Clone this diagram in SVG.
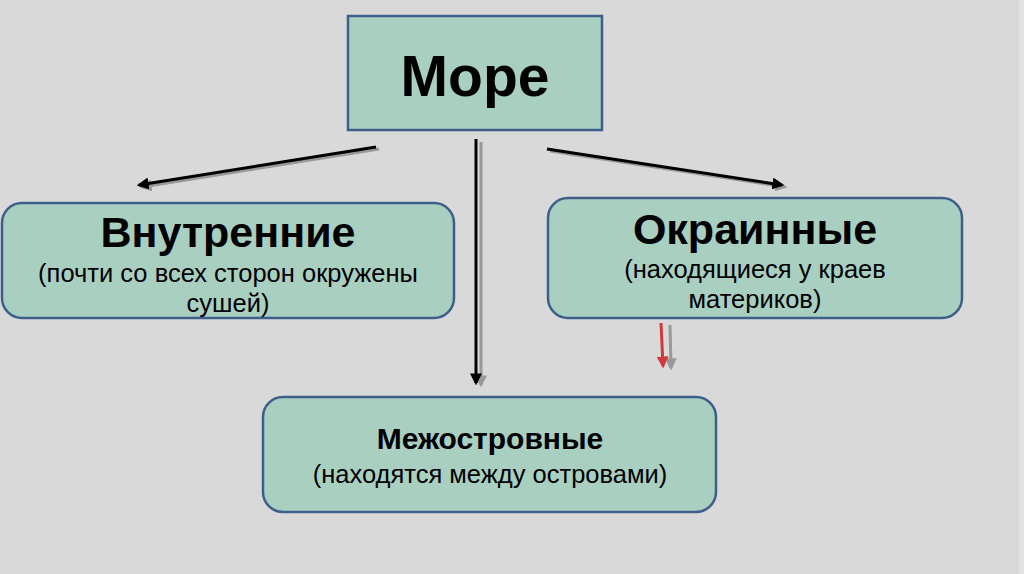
<svg xmlns="http://www.w3.org/2000/svg" width="1024" height="574" viewBox="0 0 1024 574">
<style>
.box{fill:#a8cfc0;stroke:#3d5f8a;stroke-width:2.5}
.t{font-family:"Liberation Sans",Arial,sans-serif;fill:#000;text-anchor:middle}
.b{font-weight:bold}
.sh{stroke:#999;stroke-width:3;fill:none}
.ln{stroke:#000;stroke-width:3;fill:none}
</style>
<defs>
<marker id="ah" viewBox="0 0 10 10" refX="8" refY="5" markerWidth="4" markerHeight="4" orient="auto" markerUnits="strokeWidth"><path d="M0,0 L10,5 L0,10 z" fill="#000"/></marker>
<marker id="ahg" viewBox="0 0 10 10" refX="8" refY="5" markerWidth="4" markerHeight="4" orient="auto" markerUnits="strokeWidth"><path d="M0,0 L10,5 L0,10 z" fill="#999"/></marker>
<marker id="ahr" viewBox="0 0 10 10" refX="8" refY="5" markerWidth="4" markerHeight="4" orient="auto" markerUnits="strokeWidth"><path d="M0,0 L10,5 L0,10 z" fill="#d03a3a"/></marker>
</defs>
<rect width="1024" height="574" fill="#d9d9d9"/>
<rect x="1019" y="0" width="5" height="574" fill="#e3e3e3"/>
<g id="connectors">
<line class="sh" x1="379" y1="149" x2="142" y2="187" marker-end="url(#ahg)"/>
<line class="ln" x1="376" y1="147" x2="139" y2="185" marker-end="url(#ah)"/>
<line class="sh" x1="550" y1="151" x2="785" y2="187" marker-end="url(#ahg)"/>
<line class="ln" x1="547" y1="149" x2="782" y2="185" marker-end="url(#ah)"/>
<line class="sh" x1="481" y1="142" x2="481" y2="385" marker-end="url(#ahg)"/>
<line class="ln" x1="476" y1="139" x2="476" y2="383" marker-end="url(#ah)"/>
<line class="sh" x1="670" y1="325" x2="671" y2="368" marker-end="url(#ahg)"/>
<line stroke="#d03a3a" stroke-width="3" x1="661" y1="323" x2="663" y2="366" marker-end="url(#ahr)"/>
</g>
<g id="node-more">
<rect class="box" x="348" y="16" width="254" height="114"/>
<text class="t b" x="475" y="96" font-size="57">Море</text>
</g>
<g id="node-vnutrennie">
<rect class="box" x="2" y="203" width="452" height="115" rx="20"/>
<text class="t b" x="228" y="247" font-size="43">Внутренние</text>
<text class="t" x="228" y="282" font-size="25.5">(почти со всех сторон окружены</text>
<text class="t" x="228" y="312" font-size="25.5">сушей)</text>
</g>
<g id="node-okrainnye">
<rect class="box" x="548" y="198" width="414" height="120" rx="20"/>
<text class="t b" x="755" y="244" font-size="43">Окраинные</text>
<text class="t" x="755" y="278" font-size="25.5">(находящиеся у краев</text>
<text class="t" x="755" y="308" font-size="25.5">материков)</text>
</g>
<g id="node-mezhostrovnye">
<rect class="box" x="263" y="397" width="453" height="115" rx="20"/>
<text class="t b" x="490" y="449" font-size="30">Межостровные</text>
<text class="t" x="490" y="483" font-size="25.5">(находятся между островами)</text>
</g>
</svg>
